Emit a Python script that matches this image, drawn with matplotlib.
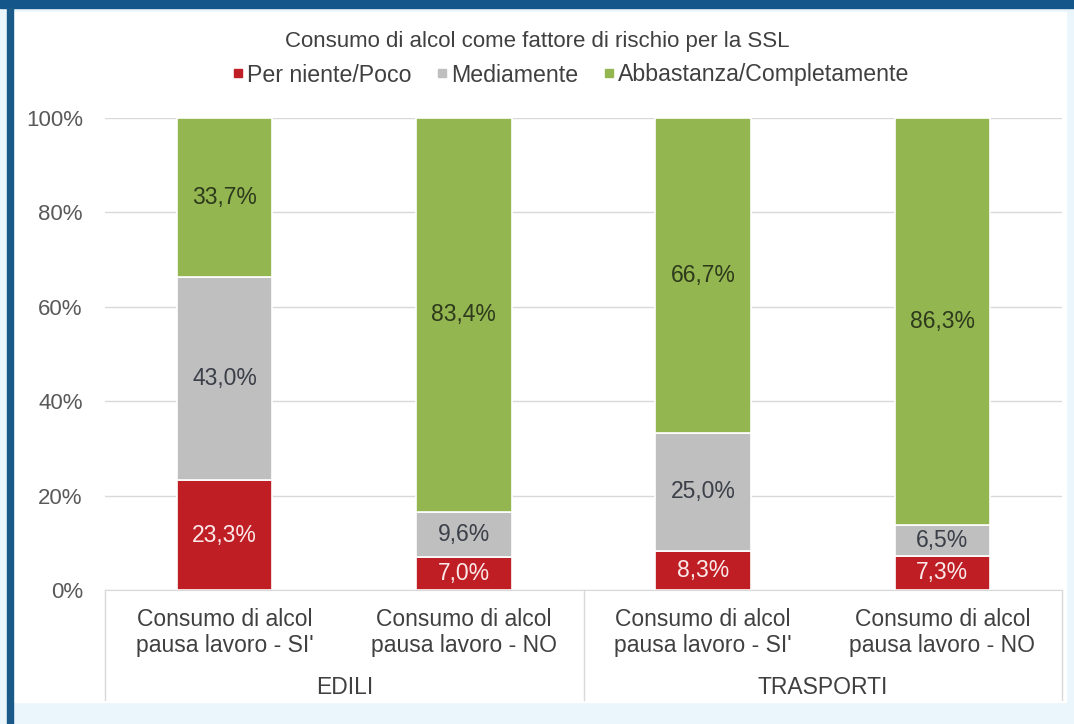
import matplotlib

matplotlib.use("Agg")
import matplotlib.pyplot as plt  # noqa: E402
from matplotlib.lines import Line2D  # noqa: E402
from matplotlib.patches import Rectangle  # noqa: E402
from matplotlib.ticker import FuncFormatter  # noqa: E402

plt.rcParams["font.family"] = ["Liberation Sans", "DejaVu Sans"]

# data
categories = [
    "Consumo di alcol\npausa lavoro - SI'",
    "Consumo di alcol\npausa lavoro - NO",
    "Consumo di alcol\npausa lavoro - SI'",
    "Consumo di alcol\npausa lavoro - NO",
]
groups = ["EDILI", "TRASPORTI"]
series_names = ["Per niente/Poco", "Mediamente", "Abbastanza/Completamente"]
per_niente = [23.3, 7.0, 8.3, 7.3]
mediamente = [43.0, 9.6, 25.0, 6.5]
abbastanza = [33.7, 83.4, 66.7, 86.3]
title = "Consumo di alcol come fattore di rischio per la SSL"

colors = ["#bf1e24", "#bfbfbf", "#93b650"]
label_colors = ["#fbe9e9", "#3a3f48", "#2d3a1c"]

W, H = 1074, 724
fig = plt.figure(figsize=(W / 100, H / 100), dpi=100)
fig.patch.set_facecolor("#eaf6fb")

# frame decoration
fig.patches.append(Rectangle((0, (H - 8) / H), 1, 8 / H, transform=fig.transFigure,
                             color="#15568a", zorder=0))
fig.patches.append(Rectangle((7 / W, 0), 6 / W, (H - 8) / H, transform=fig.transFigure,
                             color="#1b5a88", zorder=0))
fig.patches.append(Rectangle((15 / W, (H - 702) / H), 1051 / W, 690 / H,
                             transform=fig.transFigure, color="white", zorder=0))

ax = fig.add_axes([105 / W, (H - 590) / H, 957 / W, 472 / H])
ax.set_zorder(2)
ax.set_facecolor("none")

series = [per_niente, mediamente, abbastanza]
totals = [sum(v) for v in zip(*series)]
x = list(range(len(categories)))
bottom = [0.0] * len(x)
for vals, name, col, lcol in zip(series, series_names, colors, label_colors):
    frac = [v / t for v, t in zip(vals, totals)]
    bars = ax.bar(x, frac, 0.4, bottom=bottom, color=col, edgecolor="white",
                  linewidth=1.2, label=name, zorder=2)
    for b, v in zip(bars, vals):
        ax.text(b.get_x() + b.get_width() / 2, b.get_y() + b.get_height() / 2,
                f"{v:.1f}%".replace(".", ","), ha="center", va="center",
                fontsize=16.5, color=lcol, zorder=3)
    bottom = [b0 + f for b0, f in zip(bottom, frac)]

ax.set_xlim(-0.5, len(x) - 0.5)
ax.set_ylim(0, 1)
ax.set_yticks([0, 0.2, 0.4, 0.6, 0.8, 1.0])
ax.yaxis.set_major_formatter(FuncFormatter(lambda v, _: f"{v * 100:.0f}%"))
ax.tick_params(axis="y", length=0, pad=16, labelsize=16, labelcolor="#595959")
ax.set_xticks(x)
ax.set_xticklabels(categories, fontsize=16.5, color="#404040", linespacing=1.15)
ax.tick_params(axis="x", length=0, pad=13)
ax.grid(axis="y", color="#d9d9d9", linewidth=1, zorder=0)
for s in ["top", "right", "left"]:
    ax.spines[s].set_visible(False)
ax.spines["bottom"].set_color("#d9d9d9")

# group separators and labels
tr = ax.get_xaxis_transform()
depth = -110 / 472
for xs in [-0.5, 1.5, 3.5]:
    ax.add_line(Line2D([xs, xs], [0, depth], transform=tr, color="#d9d9d9",
                       linewidth=1, clip_on=False))
for gi, g in enumerate(groups):
    ax.text(2 * gi + 0.5, -98 / 472, g, transform=tr, ha="center", va="center",
            fontsize=16.5, color="#404040")

fig.text(537 / W, 1 - 42 / H, title, ha="center", va="center", fontsize=16,
         color="#404040")
handles = [Line2D([], [], marker="s", linestyle="none", markersize=6, color=c)
           for c in colors]
fig.legend(handles, series_names, loc="center", bbox_to_anchor=(569 / W, 1 - 75 / H),
           ncol=3, frameon=False, fontsize=16.7, handletextpad=0.0, columnspacing=0.9,
           handlelength=0.8, labelcolor="#404040")

fig.savefig("out.png", dpi=100, facecolor=fig.get_facecolor())
